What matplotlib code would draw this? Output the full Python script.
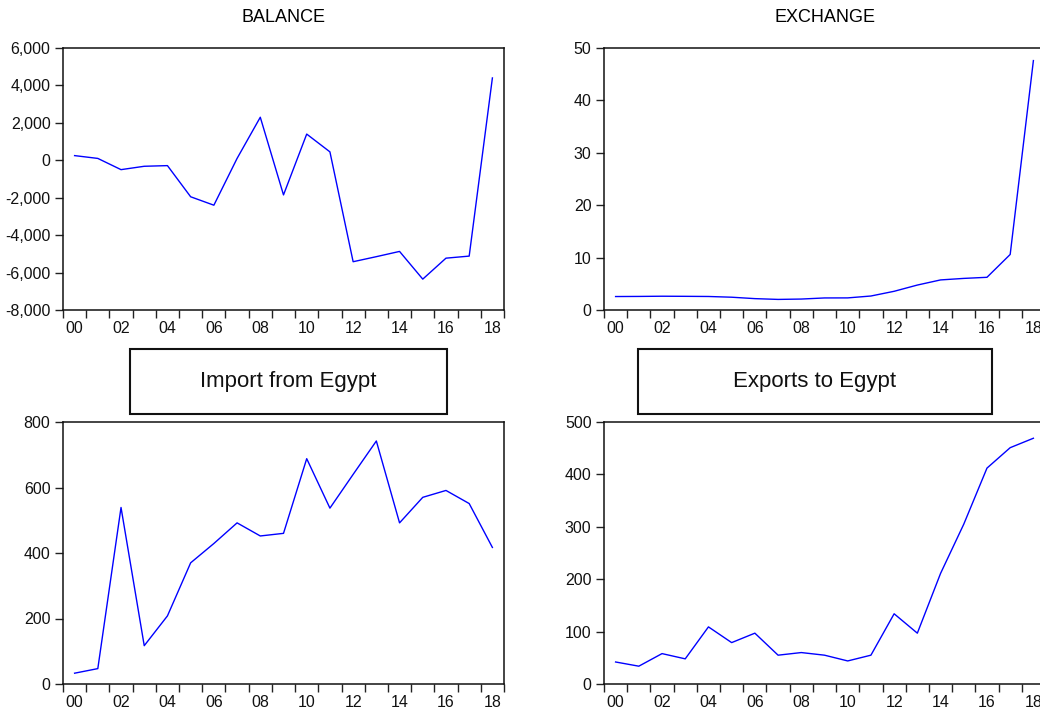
import numpy as np
import matplotlib
matplotlib.use("Agg")
import matplotlib.pyplot as plt
from matplotlib.patches import Rectangle

plt.rcParams['font.family'] = ['Liberation Sans', 'DejaVu Sans']

years = list(range(2000, 2019))
year_labels = ['00', '02', '04', '06', '08', '10', '12', '14', '16', '18']

balance = [250, 100, -500, -320, -285, -1950, -2400, 100, 2300, -1850,
           1400, 450, -5420, -5150, -4870, -6350, -5230, -5120, 4400]
exchange = [2.57, 2.59, 2.63, 2.61, 2.58, 2.44, 2.17, 2.02, 2.09, 2.30,
            2.31, 2.67, 3.57, 4.76, 5.74, 6.03, 6.24, 10.6, 47.6]
imports = [33, 47, 539, 117, 208, 370, 429, 492, 452, 460,
           688, 537, 640, 742, 492, 570, 591, 551, 417]
exports = [42, 34, 58, 48, 109, 79, 97, 55, 60, 55,
           44, 55, 134, 97, 211, 305, 412, 451, 469]

W, H = 1040, 710
fig = plt.figure(figsize=(W / 100, H / 100), dpi=100)


def make_axes(x0, y_top, y_bot, x1):
    return fig.add_axes([x0 / W, 1 - y_bot / H, (x1 - x0) / W, (y_bot - y_top) / H])


def style(ax, values, ylim, yticks, fmt):
    x = np.arange(len(years))
    ax.plot(x, values, color='#0000ff', lw=1.0)
    ax.set_xlim(-0.5, len(years) - 0.5)
    ax.set_ylim(*ylim)
    ax.set_yticks(yticks)
    ax.set_yticklabels([fmt(v) for v in yticks])
    # boundary ticks (no labels), labels at year centres (no tick lines)
    ax.set_xticks(np.arange(-0.5, len(years)), minor=False)
    ax.set_xticklabels([])
    ax.set_xticks(np.arange(0, len(years), 2), minor=True)
    ax.set_xticklabels(year_labels, minor=True)
    ax.tick_params(axis='x', which='major', direction='out', length=6, width=1, color='#222222')
    ax.tick_params(axis='x', which='minor', length=0, pad=8, labelsize=11.5, labelcolor='#111111')
    ax.tick_params(axis='y', direction='out', length=6, width=1, pad=3, labelsize=11.5,
                   labelcolor='#111111', color='#222222')
    for sp in ax.spines.values():
        sp.set_linewidth(1.1)
        sp.set_color('#111111')


ax1 = make_axes(63, 48, 310, 504)
style(ax1, balance, (-8000, 6000), list(range(-8000, 6001, 2000)), lambda v: f"{v:,}")
ax1.set_title('BALANCE', fontsize=13, pad=19)

ax2 = make_axes(604, 48, 310, 1045)
style(ax2, exchange, (0, 50), [0, 10, 20, 30, 40, 50], lambda v: f"{v}")
ax2.set_title('EXCHANGE', fontsize=13, pad=19)

ax3 = make_axes(63, 422, 684, 504)
style(ax3, imports, (0, 800), [0, 200, 400, 600, 800], lambda v: f"{v}")

ax4 = make_axes(604, 422, 684, 1045)
style(ax4, exports, (0, 500), [0, 100, 200, 300, 400, 500], lambda v: f"{v}")

# boxed titles for the bottom panels
for (bx0, bx1, label) in [(130, 447, 'Import from Egypt'), (638, 992, 'Exports to Egypt')]:
    by0, by1 = 349, 414
    fig.patches.append(Rectangle((bx0 / W, 1 - by1 / H), (bx1 - bx0) / W, (by1 - by0) / H,
                                 transform=fig.transFigure, fill=False,
                                 edgecolor='#111111', lw=1.5))
    fig.text((bx0 + bx1) / 2 / W, 1 - (by0 + by1) / 2 / H, label,
             ha='center', va='center', fontsize=16, color='#111111')

fig.savefig('out.png', dpi=100)
